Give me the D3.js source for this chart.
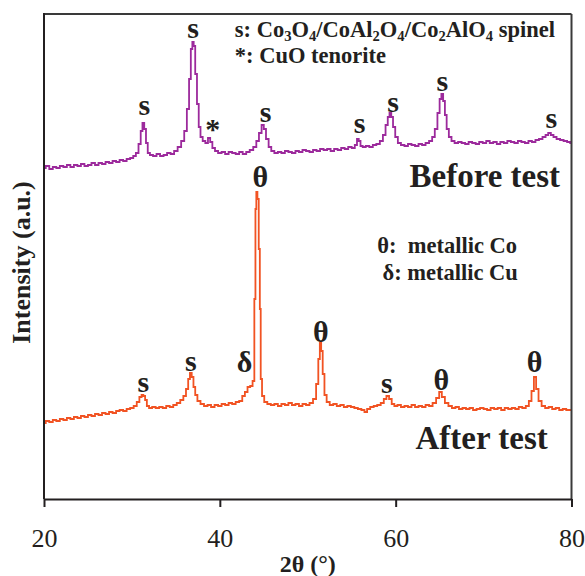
<!DOCTYPE html>
<html>
<head>
  <meta charset="utf-8">
  <title>XRD before / after test</title>
  <script src="https://cdnjs.cloudflare.com/ajax/libs/d3/7.8.5/d3.min.js"></script>
  <style>
    html, body { margin: 0; padding: 0; background: #fff; }
    text { font-family: "Liberation Serif", "Times New Roman", serif; fill: #231f20; }
  </style>
</head>
<body>
  <svg id="chart" width="585" height="576"></svg>
  <script>

    // 2theta (deg), intensity (a.u., offsets included)
    const beforeTest = [
      [20.0,331],[20.4,333],[20.8,330],[21.2,332],[21.6,331],[22.0,333],[22.4,332],[22.8,334],[23.2,332],[23.6,334],
      [24.0,333],[24.4,335],[24.8,333],[25.2,334],[25.6,336],[26.0,334],[26.4,336],[26.8,335],[27.2,337],[27.6,336],
      [28.0,338],[28.4,337],[28.8,339],[29.2,338],[29.6,340],[30.0,341],[30.3,343],[30.6,346],[30.9,355],[31.1,368],
      [31.3,376],[31.5,370],[31.7,356],[31.9,346],[32.2,344],[32.6,343],[33.0,345],[33.4,343],[33.8,344],[34.2,346],
      [34.6,345],[35.0,348],[35.4,352],[35.8,358],[36.1,368],[36.4,390],[36.6,420],[36.8,450],[36.95,457],[37.1,453],
      [37.3,425],[37.5,395],[37.7,372],[37.9,362],[38.2,358],[38.5,356],[38.8,361],[39.0,357],[39.3,351],[39.6,348],
      [40.0,346],[40.4,347],[40.8,345],[41.2,347],[41.6,346],[42.0,345],[42.4,347],[42.8,345],[43.2,347],[43.6,349],
      [44.0,352],[44.3,358],[44.6,366],[44.9,374],[45.1,370],[45.4,360],[45.7,352],[46.0,348],[46.4,346],[46.8,347],
      [47.2,346],[47.6,348],[48.0,347],[48.4,346],[48.8,348],[49.2,347],[49.6,349],[50.0,348],[50.4,347],[50.8,349],
      [51.2,348],[51.6,350],[52.0,349],[52.4,350],[52.8,348],[53.2,350],[53.6,349],[54.0,351],[54.4,350],[54.8,352],
      [55.2,351],[55.5,354],[55.7,360],[55.9,358],[56.1,353],[56.4,352],[56.8,353],[57.2,352],[57.6,354],[58.0,355],
      [58.4,358],[58.7,364],[59.0,374],[59.2,382],[59.4,386],[59.6,382],[59.8,372],[60.1,362],[60.4,356],[60.8,354],
      [61.2,353],[61.6,355],[62.0,354],[62.4,353],[62.8,355],[63.2,354],[63.6,356],[64.0,358],[64.3,362],[64.6,370],
      [64.9,386],[65.1,400],[65.3,405],[65.5,398],[65.7,384],[65.9,370],[66.2,362],[66.5,358],[66.9,356],[67.3,357],
      [67.7,356],[68.1,355],[68.5,357],[68.9,356],[69.3,355],[69.7,357],[70.1,356],[70.5,358],[70.9,356],[71.3,357],
      [71.7,355],[72.1,357],[72.5,356],[72.9,358],[73.3,357],[73.7,356],[74.1,358],[74.5,357],[74.9,356],[75.3,358],
      [75.7,357],[76.1,359],[76.5,360],[76.9,362],[77.2,364],[77.5,366],[77.8,364],[78.1,362],[78.5,360],[78.9,359],
      [79.3,358],[79.7,357],[80.0,356]
    ]

    const afterTest = [
      [20.0,76],[20.4,78],[20.8,77],[21.2,79],[21.6,78],[22.0,80],[22.4,79],[22.8,81],[23.2,80],[23.6,82],
      [24.0,81],[24.4,83],[24.8,82],[25.2,84],[25.6,83],[26.0,85],[26.4,84],[26.8,86],[27.2,85],[27.6,87],
      [28.0,86],[28.4,88],[28.8,89],[29.2,88],[29.6,90],[30.0,91],[30.4,93],[30.7,97],[31.0,102],[31.2,104],
      [31.4,103],[31.6,99],[31.8,93],[32.1,91],[32.5,92],[32.9,91],[33.3,92],[33.7,91],[34.1,93],[34.5,92],
      [34.9,94],[35.3,96],[35.7,99],[36.0,103],[36.3,110],[36.5,120],[36.7,126],[36.9,122],[37.1,112],[37.3,104],
      [37.6,98],[38.0,95],[38.4,93],[38.8,94],[39.2,92],[39.6,94],[40.0,93],[40.4,95],[40.8,94],[41.2,96],
      [41.6,95],[42.0,97],[42.4,98],[42.7,103],[43.0,107],[43.3,112],[43.6,113],[43.85,118],[44.0,200],[44.1,290],
      [44.2,307],[44.35,300],[44.5,250],[44.6,190],[44.7,120],[44.9,103],[45.2,97],[45.6,95],[46.0,94],[46.4,95],
      [46.8,93],[47.2,95],[47.6,94],[48.0,96],[48.4,94],[48.8,95],[49.2,93],[49.6,95],[50.0,94],[50.4,96],
      [50.8,100],[51.1,115],[51.3,140],[51.45,156],[51.6,148],[51.8,125],[52.0,104],[52.3,97],[52.7,94],[53.1,95],
      [53.5,93],[53.9,94],[54.3,92],[54.7,93],[55.1,92],[55.5,91],[55.9,90],[56.3,89],[56.6,87],[56.9,90],
      [57.3,92],[57.7,93],[58.1,94],[58.5,96],[58.8,100],[59.1,103],[59.4,100],[59.7,95],[60.0,93],[60.4,94],
      [60.8,92],[61.2,93],[61.6,92],[62.0,94],[62.4,92],[62.8,93],[63.2,92],[63.6,94],[64.0,93],[64.4,96],
      [64.8,101],[65.1,107],[65.4,102],[65.8,96],[66.2,93],[66.6,91],[67.0,92],[67.4,90],[67.8,91],[68.2,90],
      [68.6,91],[69.0,89],[69.4,90],[69.8,91],[70.2,90],[70.6,89],[71.0,91],[71.4,90],[71.8,91],[72.2,89],
      [72.6,91],[73.0,90],[73.4,91],[73.8,90],[74.2,92],[74.6,91],[75.0,93],[75.3,98],[75.6,108],[75.85,122],
      [76.1,110],[76.4,98],[76.8,93],[77.2,91],[77.6,92],[78.0,90],[78.4,91],[78.8,89],[79.2,90],[79.6,89],
      [80.0,89]
    ]

    // peak markers: [symbol, 2theta, intensity of text baseline]
    const beforeMarks = [
      ['s',31.4,384],['s',36.95,461],['*',39.2,360],['s',45.2,377],['s',55.9,366],
      ['s',59.7,387],['s',65.3,408],['s',77.7,371]
    ]
    const afterMarks = [
      ['s',31.3,107],['s',36.7,128],['δ',42.8,127],['θ',44.6,312],['θ',51.5,157],
      ['s',59.0,106],['θ',65.2,109],['θ',75.8,127]
    ]

    const xTicks = [20, 40, 60, 80]

    const svg = d3.select('#chart')
    const plotL = 44, plotR = 571.5, plotT = 14, plotB = 499

    const x = d3.scaleLinear().domain([20, 80]).range([plotL, plotR])
    const y = d3.scaleLinear().domain([0, 485]).range([plotB, plotT])

    const line = d3.line()
      .x(d => x(d[0]))
      .y(d => y(d[1]))
      .curve(d3.curveStep)

    svg.append('path')
      .datum(beforeTest)
      .attr('d', line)
      .attr('fill', 'none')
      .attr('stroke', '#9c2a9c')
      .attr('stroke-width', 1.8)

    svg.append('path')
      .datum(afterTest)
      .attr('d', line)
      .attr('fill', 'none')
      .attr('stroke', '#f15323')
      .attr('stroke-width', 1.8)

    // peak labels
    const marks = beforeMarks.concat(afterMarks)
    svg.append('g').selectAll('text')
      .data(marks)
      .join('text')
      .attr('x', d => x(d[1]))
      .attr('y', d => y(d[2]))
      .attr('text-anchor', 'middle')
      .attr('font-size', 30)
      .attr('font-weight', 'bold')
      .text(d => d[0])

    // legend text with subscripts
    const addRich = (parts, xv, yv, size) => {
      const t = svg.append('text')
        .attr('x', x(xv)).attr('y', y(yv))
        .attr('font-size', size).attr('font-weight', 'bold')
        .style('white-space', 'pre')
      let shifted = false
      parts.forEach(p => {
        if (typeof p === 'string') {
          t.append('tspan').attr('dy', shifted ? -4 : 0).text(p)
          shifted = false
        } else {
          t.append('tspan').attr('font-size', size * 0.65).attr('dy', 4).text(p[0])
          shifted = true
        }
      })
      return t
    }

    addRich(['s: Co', ['3'], 'O', ['4'], '/CoAl', ['2'], 'O', ['4'], '/Co', ['2'], 'AlO', ['4'], ' spinel'], 41.7, 462, 22.5)
    addRich(['*: CuO tenorite'], 41.7, 436, 22.5)
    addRich(['θ:  metallic Co'], 57.9, 246, 22.5)
    addRich(['δ: metallic Cu'], 58.5, 219, 22.5)

    svg.append('text')
      .attr('x', x(78.7)).attr('y', y(312))
      .attr('text-anchor', 'end')
      .attr('font-size', 33).attr('font-weight', 'bold')
      .text('Before test')

    svg.append('text')
      .attr('x', x(77.3)).attr('y', y(50))
      .attr('text-anchor', 'end')
      .attr('font-size', 33).attr('font-weight', 'bold')
      .text('After test')

    // frame
    svg.append('line')
      .attr('x1', plotL).attr('x2', plotR).attr('y1', plotT).attr('y2', plotT)
      .attr('stroke', '#3a3a3a').attr('stroke-width', 2)
    svg.append('line')
      .attr('x1', plotR).attr('x2', plotR).attr('y1', plotT).attr('y2', plotB)
      .attr('stroke', '#3a3a3a').attr('stroke-width', 2)
    svg.append('line')
      .attr('x1', plotL).attr('x2', plotL).attr('y1', plotT - 1).attr('y2', plotB)
      .attr('stroke', '#231f20').attr('stroke-width', 2)

    const xAxis = svg.append('g')
      .attr('transform', `translate(0,${plotB})`)
      .call(d3.axisBottom(x).tickValues(xTicks).tickSize(8).tickPadding(22).tickSizeOuter(0))
    xAxis.select('.domain').attr('stroke', '#231f20').attr('stroke-width', 2)
    xAxis.selectAll('.tick line').attr('stroke', '#231f20').attr('stroke-width', 2)
    xAxis.selectAll('.tick text')
      .attr('font-size', 26)
      .attr('font-family', '"Liberation Serif", "Times New Roman", serif')
      .attr('fill', '#231f20')

    svg.append('text')
      .attr('x', (plotL + plotR) / 2).attr('y', 572)
      .attr('text-anchor', 'middle')
      .attr('font-size', 24).attr('font-weight', 'bold')
      .text('2θ (°)')

    svg.append('text')
      .attr('transform', `translate(30,${(plotT + plotB) / 2 + 6}) rotate(-90)`)
      .attr('text-anchor', 'middle')
      .attr('font-size', 26).attr('font-weight', 'bold')
      .text('Intensity (a.u.)')

  </script>
</body>
</html>
